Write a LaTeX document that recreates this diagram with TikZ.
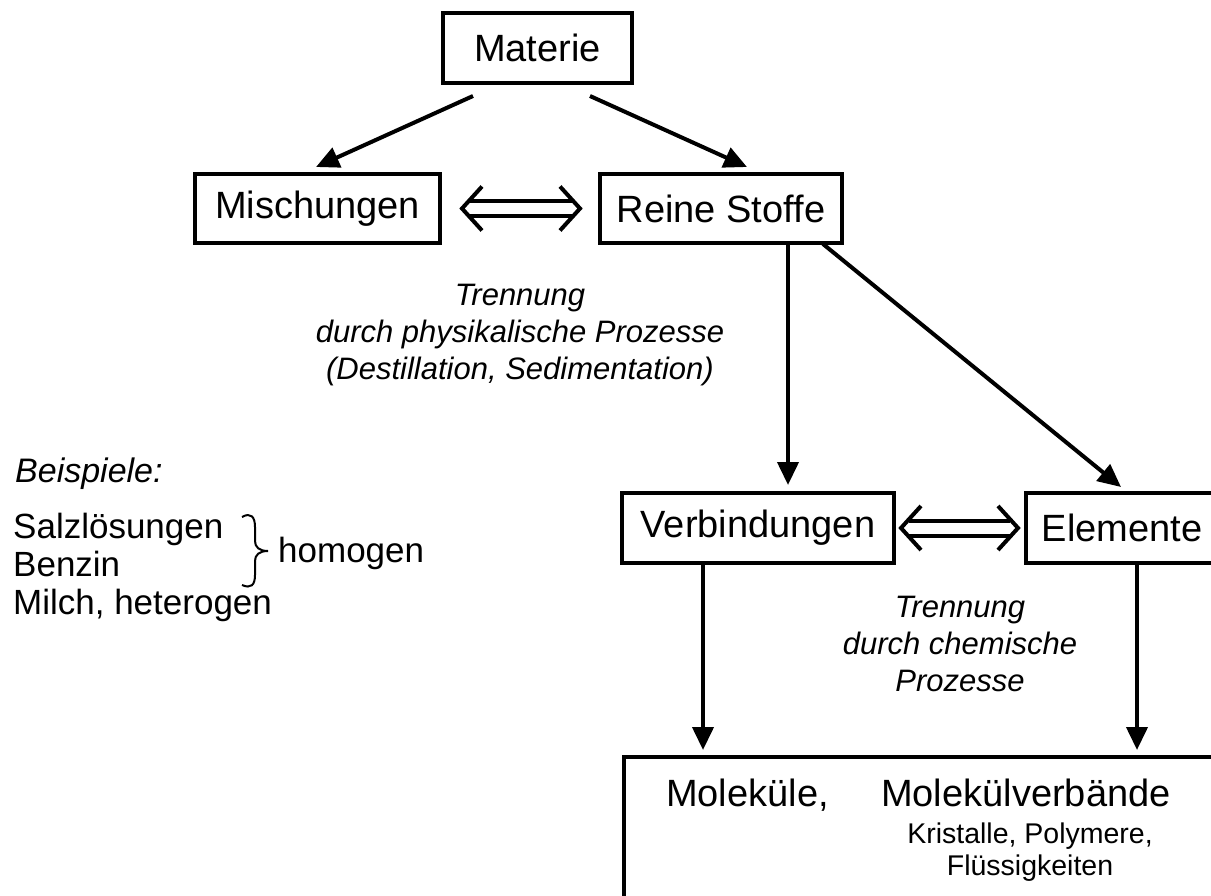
\documentclass[tikz,border=0pt]{standalone}
\usepackage{fontspec}
\setmainfont{Liberation Sans}
\usetikzlibrary{arrows.meta,calc}
\newcommand\dblarr[2]{%
  \draw[dblline] ($(#1)+(8,-7.5)$) -- ($(#2)+(-8,-7.5)$);
  \draw[dblline] ($(#1)+(8,7.5)$) -- ($(#2)+(-8,7.5)$);
  \draw[dblline] ($(#1)+(20,-22)$) -- (#1) -- ($(#1)+(20,22)$);
  \draw[dblline] ($(#2)+(-20,-22)$) -- (#2) -- ($(#2)+(-20,22)$);}
\begin{document}
\begin{tikzpicture}[x=1pt,y=-1pt,
  box/.style={draw, line width=4pt, inner sep=0pt, outer sep=0pt, font=\fontsize{38}{45}\selectfont},
  arr/.style={line width=4pt, -{Triangle[length=23pt,width=21pt]}},
  dblline/.style={line width=4pt, line join=miter},
  itl/.style={inner sep=0pt, align=center, font=\fontsize{31}{37}\selectfont\itshape},
  lbl/.style={inner sep=0pt, font=\fontsize{35}{38}\selectfont},
  big/.style={inner sep=0pt, font=\fontsize{38}{45}\selectfont},
  small/.style={inner sep=0pt, align=center, font=\fontsize{28.5}{32}\selectfont}]
\useasboundingbox (0,0) rectangle (1211,896);
\clip (0,0) rectangle (1211,896);
% boxes
\node[box, minimum width=189pt, minimum height=70pt] (mat) at (537.5,48) {Materie};
\node[box, minimum width=245pt, minimum height=69pt] (mis) at (317.5,208.5) {Mischungen};
\node[box, minimum width=242pt, minimum height=69pt] (rein) at (721,208.5) {Reine Stoffe};
\node[box, minimum width=272pt, minimum height=70pt] (verb) at (758,528) {Verbindungen};
\node[box, minimum width=192pt, minimum height=70pt, anchor=west] (elem) at (1026,528) {Elemente};
\node[box, minimum width=700pt, minimum height=300pt, anchor=north west] (mol) at (624,757) {};
% arrows
\draw[arr] ($(mat.south)+(-64.5,13)$) -- ($(mis.north)+(-1.5,-7)$);
\draw[arr] ($(mat.south)+(52.5,13)$) -- ($(rein.north)+(26,-7)$);
\coordinate (r1) at ($(rein.south)+(67,0)$);
\draw[arr] (r1) -- ($(r1 |- verb.north)+(0,-8)$);
\draw[arr] ($(rein.south)+(102,1)$) -- ($(elem.north)+(-1,-6)$);
\coordinate (v1) at ($(verb.south)+(-55,0)$);
\draw[arr] (v1) -- ($(v1 |- mol.north)+(0,-7)$);
\coordinate (e1) at ($(elem.south)+(15,0)$);
\draw[arr] (e1) -- ($(e1 |- mol.north)+(0,-7)$);
% double arrows
\coordinate (d1l) at ($(mis.east)+(22,0)$);
\coordinate (d1r) at ($(rein.west)+(-20,0)$);
\dblarr{d1l}{d1r}
\coordinate (d2l) at ($(verb.east)+(7,0)$);
\coordinate (d2r) at ($(elem.west)+(-8,0)$);
\dblarr{d2l}{d2r}
% texts
\node[itl, anchor=base] (t1) at (520,379) {Trennung\\durch physikalische Prozesse\\(Destillation, Sedimentation)};
\node[itl, anchor=base] (t2) at (960,691) {Trennung\\durch chemische\\Prozesse};
\node[inner sep=0pt, anchor=base west, font=\fontsize{34}{40}\selectfont\itshape] (bsp) at (15,482) {Beispiele:};
\node[lbl, align=left, anchor=base west] (list) at (13,614) {Salzlösungen\\Benzin\\Milch, heterogen};
\node[lbl, anchor=base west] (hom) at (278,562) {homogen};
\draw[line width=2pt] (242,517) .. controls (251,512) and (255,517) .. (255,527) -- (255,541)
  .. controls (255,547) and (259,551) .. (268,551)
  .. controls (259,551) and (255,555) .. (255,561) -- (255,575)
  .. controls (255,585) and (251,589) .. (242,585);
\node[big, anchor=base west] (mk) at (666,806) {Moleküle,};
\node[big, anchor=base west] (mv) at (881,806) {Molekülverbände};
\node[small, anchor=base] (kr) at (1030,875) {Kristalle, Polymere,\\Flüssigkeiten};
\end{tikzpicture}
\end{document}
